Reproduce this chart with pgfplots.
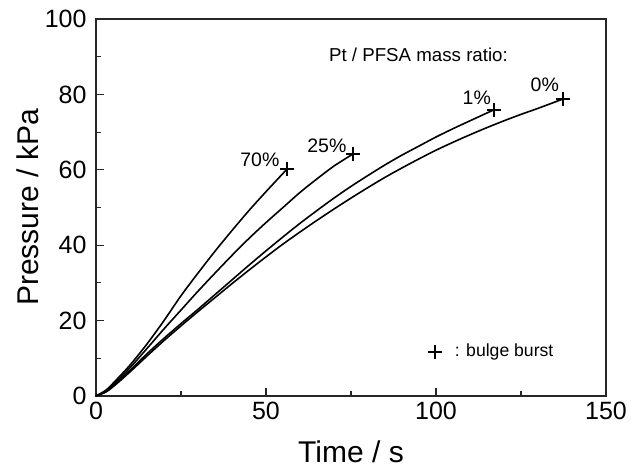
\documentclass[border=0pt]{standalone}
\usepackage{fontspec}
\setmainfont{Liberation Sans}
\usepackage{pgfplots}
\pgfplotsset{compat=1.18}

\begin{document}
\begin{tikzpicture}
\begin{axis}[
  scale only axis,
  width=510pt, height=377pt,
  xmin=0, xmax=150, ymin=0, ymax=100,
  xtick={0,50,100,150}, ytick={0,20,40,60,80,100},
  minor tick num=1,
  tick align=inside,
  xtick pos=left, ytick pos=left,
  major tick length=8pt, minor tick length=5pt,
  axis line style={line width=1.3pt, black!85},
  every tick/.style={line width=1.1pt, black!85},
  /pgf/number format/assume math mode=true,
  tick label style={font=\fontsize{25}{29}\selectfont},
  xticklabel style={yshift=-3pt},
  yticklabel style={xshift=-6pt},
  xlabel={Time / s}, ylabel={Pressure / kPa},
  label style={font=\fontsize{30}{34}\selectfont},
  xlabel style={yshift=-14pt},
  ylabel style={yshift=-1pt},
  clip=false,
]
% 70 %
\addplot[black, line width=1.6pt, smooth] coordinates {
  (0,0) (3,1.6) (6,4.3) (10,8.2) (15,13.8) (20,20) (25,26.6)
  (30,32.6) (35,38.4) (40,43.9) (45,49.2) (50,54.2) (56.2,60.2)
};
% 25 %
\addplot[black, line width=1.6pt, smooth] coordinates {
  (0,0) (3,1.4) (6,3.8) (10,7.5) (15,12.6) (20,17.8) (25,22.8)
  (30,27.8) (35,32.6) (40,37.3) (45,41.8) (50,46) (55,50)
  (60,54) (65,57.6) (70,61) (75.6,64.2)
};
% 1 %
\addplot[black, line width=1.6pt, smooth] coordinates {
  (0,0) (3,1.2) (6,3.4) (10,6.8) (15,11.2) (20,15.3) (25,19.2)
  (30,23) (35,26.9) (40,30.8) (45,34.7) (50,38.5) (55,42.2)
  (60,45.8) (65,49.2) (70,52.5) (75,55.6) (80,58.5) (85,61.3)
  (90,63.9) (95,66.3) (100,68.7) (105,70.9) (110,73) (117,75.9)
};
% 0 %
\addplot[black, line width=1.6pt, smooth] coordinates {
  (0,0) (3,1.1) (6,3.2) (10,6.4) (15,10.6) (20,14.7) (25,18.6)
  (30,22.4) (35,26.1) (40,29.8) (45,33.4) (50,36.9) (55,40.3)
  (60,43.5) (65,46.6) (70,49.6) (75,52.5) (80,55.3) (85,58)
  (90,60.5) (95,62.9) (100,65.2) (105,67.3) (110,69.3) (115,71.2)
  (120,73) (125,74.7) (130,76.3) (137.4,78.8)
};
% burst points
\addplot[only marks, mark=+, mark size=7pt, line width=2.2pt, black] coordinates {
  (56.2,60.2) (75.6,64.2) (117,75.9) (137.4,78.8)
};
\addplot[only marks, mark=+, mark size=7pt, line width=2.2pt, black] coordinates {
  (99.7,11.7)
};
\node[font=\fontsize{17.6}{20}\selectfont, anchor=west] at (axis cs:104.5,11.7) {: bulge burst};
\node[font=\fontsize{19.5}{22}\selectfont] at (axis cs:48.2,62.6) {70\%};
\node[font=\fontsize{19.5}{22}\selectfont] at (axis cs:67.9,66.3) {25\%};
\node[font=\fontsize{19.5}{22}\selectfont] at (axis cs:112,79) {1\%};
\node[font=\fontsize{19.5}{22}\selectfont] at (axis cs:132,82.5) {0\%};
\node[font=\fontsize{18.7}{22}\selectfont, anchor=west, inner sep=0pt] at (axis cs:68.5,90.4) {Pt / PFSA mass ratio:};
\end{axis}
\pgfresetboundingbox
\path[use as bounding box] (-96pt,-79pt) rectangle (545pt,396pt);
\end{tikzpicture}
\end{document}
